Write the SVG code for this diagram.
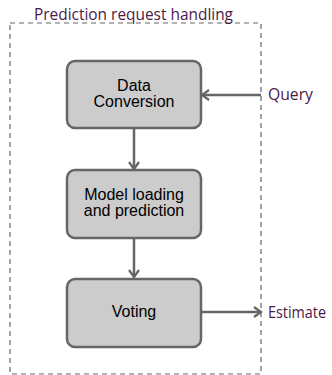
<svg xmlns="http://www.w3.org/2000/svg" width="332" height="375" viewBox="0 0 332 375">
<style>
.frame{fill:none;stroke:#666;stroke-width:1.2;stroke-dasharray:5,4}
.box{fill:#cccccc;stroke:#666;stroke-width:2.5}
.lbl{font-family:"Liberation Sans",Arial,sans-serif;font-size:16px;fill:#000;text-anchor:middle}
.ext{font-family:"Open Sans","Noto Sans",sans-serif;font-size:17px;fill:#4a1a48}
.con{fill:none;stroke:#666;stroke-width:2.5}
</style>
<defs>
<marker id="arr" viewBox="0 0 12 12" refX="10" refY="6" markerWidth="12" markerHeight="12" markerUnits="userSpaceOnUse" orient="auto">
<path d="M3,1 L10,6 L3,11" fill="none" stroke="#666" stroke-width="2.2"/>
</marker>
</defs>
<g id="frame">
<rect class="frame" x="10" y="23" width="251" height="351"/>
<text class="ext" x="34" y="20" textLength="199" lengthAdjust="spacingAndGlyphs">Prediction request handling</text>
</g>
<g id="connectors">
<line class="con" x1="261" y1="95" x2="202" y2="95" marker-end="url(#arr)"/>
<line class="con" x1="134" y1="128" x2="134" y2="169" marker-end="url(#arr)"/>
<line class="con" x1="134" y1="238" x2="134" y2="277" marker-end="url(#arr)"/>
<line class="con" x1="201" y1="312" x2="261" y2="312" marker-end="url(#arr)"/>
</g>
<g id="data-conversion">
<rect class="box" x="67" y="61" width="134" height="67" rx="8"/>
<text class="lbl" x="134" y="91">Data</text>
<text class="lbl" x="134" y="107">Conversion</text>
</g>
<g id="model-loading">
<rect class="box" x="67" y="170" width="134" height="68" rx="8"/>
<text class="lbl" x="134" y="200">Model loading</text>
<text class="lbl" x="134" y="216">and prediction</text>
</g>
<g id="voting">
<rect class="box" x="67" y="279" width="134" height="68" rx="8"/>
<text class="lbl" x="134" y="317">Voting</text>
</g>
<g id="query">
<text class="ext" x="268" y="100" textLength="45" lengthAdjust="spacingAndGlyphs">Query</text>
</g>
<g id="estimate">
<text class="ext" x="268" y="318" textLength="58" lengthAdjust="spacingAndGlyphs">Estimate</text>
</g>
</svg>
